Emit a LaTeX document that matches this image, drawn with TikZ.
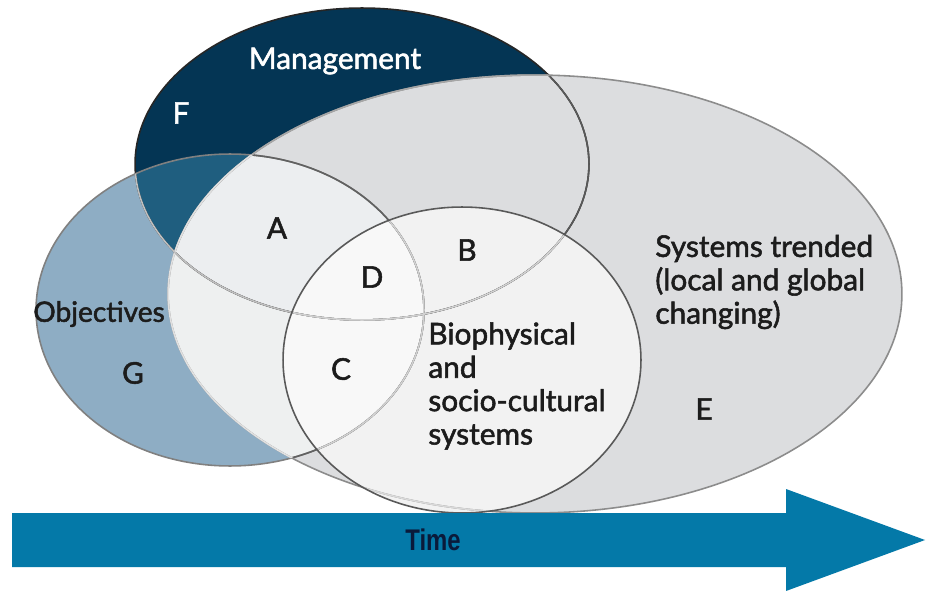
\documentclass[tikz,border=0pt]{standalone}
\usepackage{fontspec}
\setmainfont{Lato}
\newfontfamily\labelfont{Lato}[FakeBold=1.8]
\newfontfamily\timefont{Liberation Sans}
\definecolor{mgmtnavy}{HTML}{043554}
\definecolor{objblue}{HTML}{8EADC4}
\definecolor{mgmtobj}{HTML}{1F5E7F}
\definecolor{sysgrey}{HTML}{DCDDDF}
\definecolor{sysobj}{HTML}{EEF0F0}
\definecolor{sysA}{HTML}{ECEEF0}
\definecolor{biowhite}{HTML}{F2F2F2}
\definecolor{bioobj}{HTML}{F8F8F8}
\definecolor{timeblue}{HTML}{0479A8}
\definecolor{inkdark}{HTML}{1C1C1C}
\definecolor{timeink}{HTML}{0A1A3A}
\usetikzlibrary{positioning}
% the four sets
\def\mgmtpath{(362,164) ellipse [x radius=4.54cm, y radius=3.12cm]}
\def\objpath{(230,310) ellipse [x radius=3.88cm, y radius=3.12cm]}
\def\syspath{(535,294) ellipse [x radius=7.34cm, y radius=4.38cm]}
\def\biopath{(462,360) ellipse [x radius=3.58cm, y radius=3.06cm]}
\tikzset{
  label/.style={font=\labelfont\fontsize{17}{19}\selectfont, text=inkdark, inner sep=0pt},
  block/.style={label, align=left, anchor=west},
  rim/.style={line width=0.9pt}
}
\begin{document}
\begin{tikzpicture}[x=0.02cm, y=-0.02cm]
  \useasboundingbox (0,0) rectangle (929,591);
  \fill[white] (0,0) rectangle (929,591);
  % fills
  \fill[mgmtnavy] \mgmtpath;
  \fill[objblue] \objpath;
  \begin{scope}
    \clip \mgmtpath;
    \fill[mgmtobj] \objpath;
  \end{scope}
  \fill[sysgrey] \syspath;
  \begin{scope}
    \clip \objpath;
    \fill[sysobj] \syspath;
    \clip \mgmtpath;
    \fill[sysA] \syspath;
  \end{scope}
  \fill[biowhite] \biopath;
  \begin{scope}
    \clip \objpath;
    \fill[bioobj] \biopath;
  \end{scope}
  % outlines
  \draw[rim, color=black!85] \mgmtpath;
  \begin{scope}
    \clip \syspath;
    \draw[rim, color=black!65] \mgmtpath;
  \end{scope}
  \draw[rim, color=black!50] \objpath;
  \begin{scope}
    \clip \syspath;
    \draw[rim, color=black!62] \objpath;
  \end{scope}
  \draw[rim, color=black!45] \syspath;
  \begin{scope}
    \clip \mgmtpath;
    \draw[rim, color=black!35] \syspath;
  \end{scope}
  \begin{scope}
    \clip \objpath;
    \draw[rim, color=black!12] \syspath;
    \draw[rim, color=black!25] \mgmtpath;
  \end{scope}
  \begin{scope}
    \clip \biopath;
    \draw[rim, color=black!18] \mgmtpath;
    \draw[rim, color=black!18] \objpath;
    \draw[rim, color=black!15] \syspath;
  \end{scope}
  \draw[rim, color=black!65] \biopath;
  % time arrow
  \fill[timeblue] (12,513) -- (786,513) -- (786,489) -- (925,540)
    -- (786,591) -- (786,567) -- (12,567) -- cycle;
  \node[inner sep=0pt, text=timeink, font=\timefont\bfseries\fontsize{17}{20}\selectfont, xscale=0.8] (time) at (433,540) {Time};
  % labels
  \node[label, text=white] (mgmt) at (335,61) {Management};
  \node[label, font=\labelfont\fontsize{16}{19}\selectfont] (obj) at (99,314) {Objectives};
  \node[block] (bio) at (428,386) {Biophysical\\and\\socio-cultural\\systems};
  \node[block] (sys) at (655,282) {Systems trended\\(local and global\\changing)};
  \node[label, text=white] (F) at (181,113) {F};
  \foreach \name/\x/\y in {A/277/228, B/467/250, C/341/369, D/372/277, E/704/409, G/133/373}
    \node[label] (\name) at (\x,\y) {\name};
\end{tikzpicture}
\end{document}
